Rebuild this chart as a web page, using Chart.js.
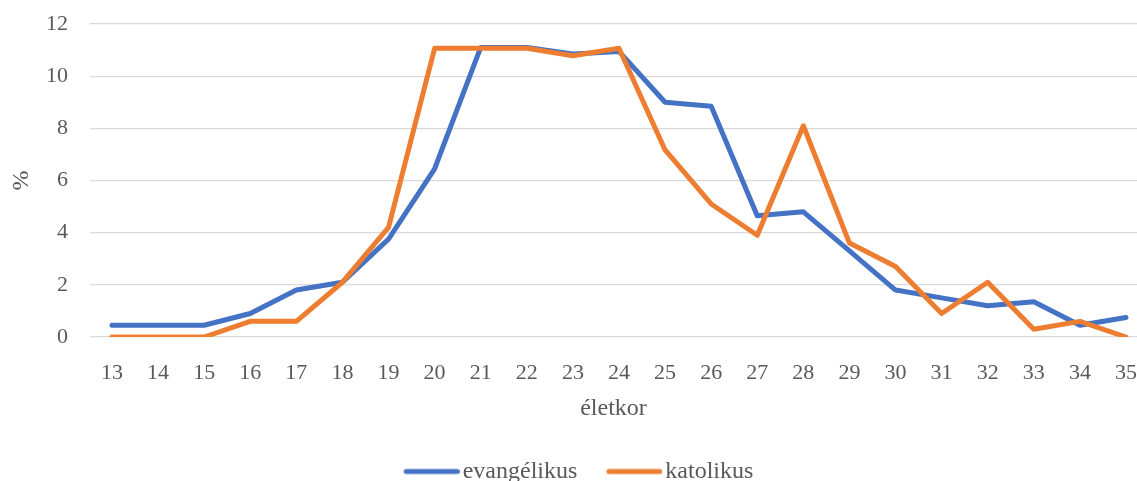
<!DOCTYPE html>
<html>
<head>
<meta charset="utf-8">
<script src="https://cdn.jsdelivr.net/npm/chart.js@4/dist/chart.umd.min.js"></script>
<style>
  html, body { margin: 0; padding: 0; background: #ffffff; }
  #wrap { width: 1137px; height: 481px; position: relative; }
</style>
</head>
<body>
<div id="wrap"><canvas id="c"></canvas></div>
<script>
const ages = [13,14,15,16,17,18,19,20,21,22,23,24,25,26,27,28,29,30,31,32,33,34,35];
const evangelikus = [0.45,0.45,0.45,0.9,1.8,2.1,3.75,6.45,11.1,11.1,10.85,10.95,9.0,8.85,4.65,4.8,3.3,1.8,1.5,1.2,1.35,0.45,0.75];
const katolikus = [0,0,0,0.6,0.6,2.1,4.2,11.07,11.07,11.07,10.78,11.07,7.17,5.1,3.9,8.1,3.6,2.7,0.9,2.1,0.3,0.6,0];
const seriesNames = ['evangélikus', 'katolikus'];
const seriesColors = ['#4472C4', '#ED7D31'];
const yTicks = [0,2,4,6,8,10,12];
const xTitle = 'életkor';
const yTitle = '%';

const FONT = "'Liberation Serif', 'Times New Roman', serif";
const TEXT = '#595959';

function legendSwatch(color) {
  const cv = document.createElement('canvas');
  cv.width = 65; cv.height = 10;
  const g = cv.getContext('2d');
  g.strokeStyle = color; g.lineWidth = 5; g.lineCap = 'round';
  g.beginPath(); g.moveTo(9 + 2.5, 5); g.lineTo(65 - 2.5, 5); g.stroke();
  return cv;
}
const swatches = seriesColors.map(legendSwatch);

const datasets = [
  { label: seriesNames[0], data: ages.map((a, i) => ({x: a, y: evangelikus[i]})), borderColor: seriesColors[0], backgroundColor: seriesColors[0], order: 1 },
  { label: seriesNames[1], data: ages.map((a, i) => ({x: a, y: katolikus[i]})), borderColor: seriesColors[1], backgroundColor: seriesColors[1], order: 0 }
].map(d => Object.assign(d, { borderWidth: 5, pointRadius: 0, pointHoverRadius: 0, tension: 0, fill: false, borderCapStyle: 'round', borderJoinStyle: 'round' }));

new Chart(document.getElementById('c'), {
  type: 'line',
  data: { datasets },
  options: {
    responsive: true,
    maintainAspectRatio: false,
    animation: false,
    events: [],
    layout: { padding: { left: 20, right: 0, top: 24, bottom: -12.5 } },
    scales: {
      x: {
        type: 'linear',
        min: 12.523,
        max: 35.239,
        afterFit: s => { s.height = 93.5; s.paddingLeft = 0; s.paddingRight = 0; },
        grid: { display: false },
        border: { display: false },
        ticks: {
          stepSize: 1, includeBounds: false, autoSkip: false, maxRotation: 0,
          padding: 15.3, color: TEXT, font: { family: FONT, size: 22 },
          callback: v => (ages.includes(v) ? String(v) : '')
        },
        title: { display: true, text: xTitle, color: TEXT, font: { family: FONT, size: 24 }, padding: { top: 0, bottom: 7.1 } }
      },
      y: {
        min: 0, max: 12,
        afterFit: s => { s.width = 70; s.paddingTop = 0; s.paddingBottom = 0; },
        afterBuildTicks: s => { s.ticks = yTicks.map(v => ({ value: v })); },
        grid: { color: '#d9d9d9', lineWidth: 1.3, drawTicks: false },
        border: { display: false },
        ticks: { stepSize: 2, padding: 22, color: TEXT, font: { family: FONT, size: 22 } },
        title: { display: true, text: yTitle, color: TEXT, font: { family: FONT, size: 24 }, padding: { top: -12.4, bottom: 0 } }
      }
    },
    plugins: {
      tooltip: { enabled: false },
      legend: {
        position: 'bottom',
        labels: {
          usePointStyle: true,
          pointStyleWidth: 47,
          padding: 29,
          color: TEXT,
          font: { family: FONT, size: 24 },
          sort: (a, b) => a.datasetIndex - b.datasetIndex,
          generateLabels: chart => chart.data.datasets.map((d, i) => ({
            text: d.label, fillStyle: d.borderColor, strokeStyle: d.borderColor,
            lineWidth: 0, pointStyle: swatches[i], datasetIndex: i, hidden: false, fontColor: TEXT
          }))
        }
      }
    }
  }
});
</script>
</body>
</html>
